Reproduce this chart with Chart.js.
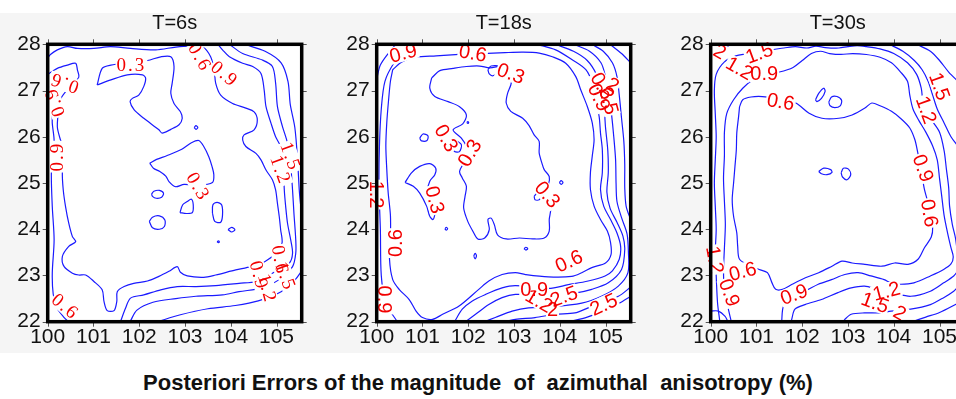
<!DOCTYPE html>
<html>
<head>
<meta charset="utf-8">
<script src="https://cdn.jsdelivr.net/npm/chart.js@4.4.1/dist/chart.umd.min.js"></script>
<style>
  html, body { margin: 0; padding: 0; background: #fff; width: 956px; height: 399px; overflow: hidden; position: relative; }
  #band { position: absolute; left: 0; top: 13px; width: 956px; height: 340px; background: #f5f5f5; }
  .panel { position: absolute; top: 0; }
  #caption { position: absolute; left: 0; top: 370px; width: 956px; text-align: center; white-space: pre;
    font-family: "Liberation Sans", Arial, sans-serif; font-weight: bold; font-size: 22px; line-height: 26px; color: #111; }
</style>
</head>
<body>
<div id="band"></div>
<canvas id="c0" class="panel" width="312" height="360"></canvas>
<canvas id="c1" class="panel" width="312" height="360"></canvas>
<canvas id="c2" class="panel" width="312" height="360"></canvas>
<div id="caption">Posteriori Errors of the magnitude  of  azimuthal  anisotropy (%)</div>
<script>
const xTicks = [100, 101, 102, 103, 104, 105];
const yTicks = [22, 23, 24, 25, 26, 27, 28];
const periods = ['T=6s', 'T=18s', 'T=30s'];

// ---- T=6s contours (lon, lat) ----
const p1Ring06 = [[100.0,27.34],[100.03,27.37],[100.21,27.48],[100.43,27.55],[100.61,27.59],[100.65,27.44],[100.68,27.29],[100.5,27.1],[100.3,26.85],[100.25,26.65],[100.21,26.22],[100.28,25.93],[100.36,25.72],[100.32,25.21],[100.34,24.85],[100.39,24.49],[100.46,24.13],[100.54,23.84],[100.61,23.73],[100.46,23.63],[100.32,23.41],[100.36,23.19],[100.54,23.05],[100.68,23.01],[100.83,23.01],[101.01,22.87],[101.19,22.69],[101.23,22.44],[101.30,22.24],[101.45,22.24],[101.51,22.44],[101.52,22.65],[101.67,22.76],[101.88,22.83],[102.18,22.88],[102.43,22.98],[102.65,23.09],[102.83,23.19],[102.90,23.07],[103.05,22.99],[103.41,22.96],[103.67,23.01],[104.11,23.12],[104.44,23.19],[104.75,23.3],[104.98,23.48],[105.12,23.70],[105.09,23.99],[105.06,24.27],[105.02,24.56],[104.98,24.85],[104.91,25.07],[104.77,25.28],[104.66,25.50],[104.55,25.64],[104.33,25.79],[104.26,25.93],[104.29,26.04],[104.51,26.15],[104.58,26.36],[104.51,26.54],[104.33,26.62],[104.04,26.72],[103.78,26.90],[103.67,27.16],[103.64,27.44],[103.56,27.73],[103.4,27.93],[103.1,27.96],[102.8,27.94],[102.36,27.88],[101.81,27.91],[101.37,27.95],[101.01,27.91],[100.65,27.91],[100.43,27.95],[100.21,27.88],[100.06,27.78],[100.0,27.7]];
const p1Line09 = [[103.72,28.0],[103.82,27.88],[103.97,27.73],[104.26,27.59],[104.48,27.52],[104.66,27.37],[104.73,27.01],[104.77,26.65],[104.88,26.29],[104.98,26.00],[105.09,25.79],[105.14,25.57],[105.17,24.85],[105.20,24.49],[105.24,24.13],[105.31,23.77],[105.35,23.48],[105.28,23.27],[104.91,23.05],[104.55,22.87],[104.18,22.83],[103.67,22.78],[103.24,22.76],[102.83,22.76],[102.47,22.69],[102.10,22.58],[101.81,22.51],[101.70,22.29],[101.59,22.0]];
const p1Line12 = [[103.97,28.0],[104.26,27.80],[104.69,27.66],[104.91,27.52],[104.98,27.16],[105.02,26.65],[105.13,26.22],[105.24,25.86],[105.31,25.36],[105.35,24.85],[105.38,24.35],[105.42,23.77],[105.42,23.48],[105.35,23.19],[105.06,22.91],[104.69,22.73],[104.18,22.65],[103.82,22.58],[103.24,22.55],[102.8,22.5],[102.3,22.42],[101.95,22.25],[101.8,22.0]];
const p1Line15a = [[102.4,22.0],[102.9,22.15],[103.5,22.28],[104.1,22.35],[104.6,22.45],[105.1,22.65],[105.4,22.9],[105.55,23.1]];
const p1Line15b = [[104.3,28.0],[104.75,27.85],[105.1,27.6],[105.25,27.2],[105.3,26.7],[105.4,26.2],[105.46,25.5],[105.5,24.8],[105.55,24.3]];
const p1LineLeft = [[100.0,27.15],[100.06,26.9],[100.1,26.5],[100.10,26.29],[100.14,25.93],[100.12,25.57],[100.08,25.21],[100.10,24.49],[100.14,23.77],[100.10,23.05],[100.12,22.6],[100.2,22.3],[100.35,22.1],[100.45,22.0]];
const p1Blob03a = [[101.08,27.12],[101.19,27.48],[101.38,27.55],[101.8,27.6],[102.18,27.65],[102.47,27.73],[102.69,27.73],[102.76,27.52],[102.72,27.16],[102.69,26.94],[102.76,26.72],[102.90,26.54],[102.94,26.40],[102.87,26.26],[102.69,26.16],[102.50,26.08],[102.43,26.15],[102.10,26.40],[101.89,26.58],[101.80,26.76],[101.85,26.83],[101.99,26.90],[102.10,27.09],[102.14,27.27],[102.07,27.34],[101.74,27.34],[101.38,27.23],[101.08,27.12]];
const p1Blob03b = [[102.23,25.43],[102.38,25.51],[102.60,25.59],[102.93,25.73],[103.14,25.87],[103.30,25.92],[103.41,25.79],[103.52,25.57],[103.59,25.36],[103.63,25.18],[103.60,25.01],[103.3,24.95],[102.98,24.97],[102.79,24.92],[102.65,25.03],[102.58,25.15],[102.45,25.25],[102.31,25.32],[102.23,25.43]];
const p1Isle1 = [[103.20,26.20],[103.24,26.24],[103.28,26.20],[103.24,26.16],[103.20,26.20]];
const p1Isle2 = [[102.27,24.76],[102.32,24.82],[102.44,24.84],[102.53,24.78],[102.49,24.69],[102.37,24.67],[102.29,24.71],[102.27,24.76]];
const p1Isle3 = [[102.89,24.36],[102.95,24.53],[103.05,24.60],[103.14,24.65],[103.18,24.53],[103.16,24.36],[103.03,24.34],[102.89,24.36]];
const p1Isle4 = [[102.22,24.17],[102.29,24.26],[102.44,24.29],[102.56,24.20],[102.55,24.06],[102.44,24.00],[102.29,24.03],[102.22,24.17]];
const p1Isle5 = [[103.60,24.35],[103.61,24.53],[103.70,24.58],[103.80,24.53],[103.82,24.31],[103.78,24.15],[103.65,24.17],[103.60,24.35]];
const p1Isle6 = [[103.94,23.99],[104.02,24.04],[104.09,23.99],[104.02,23.94],[103.94,23.99]];
const p1Isle7 = [[103.70,23.73],[103.73,23.75],[103.75,23.73],[103.73,23.71],[103.70,23.73]];
const p1Labels = [['0.3',101.83,27.55,0],['0.6',103.33,27.72,60],['0.9',103.87,27.36,40],['0.6',100.36,27.16,200],['0.9',100.15,26.75,250],['0.9',100.21,25.57,-90],['0.3',103.29,24.92,60],['1.5',105.31,25.57,70],['1.2',105.09,25.28,70],['0.9',104.62,23.0,75],['0.6',105.08,23.33,80],['1.2',104.8,22.72,75],['1.5',105.2,22.98,70],['0.6',100.39,22.33,40]];

// ---- T=18s contours ----
const p2Ring06 = [[100.35,27.45],[100.55,27.62],[100.85,27.72],[101.3,27.75],[101.8,27.78],[102.3,27.8],[102.8,27.82],[103.2,27.83],[103.55,27.81],[103.84,27.73],[104.13,27.59],[104.35,27.30],[104.46,27.01],[104.6,26.66],[104.71,26.30],[104.75,25.94],[104.71,25.58],[104.67,25.22],[104.67,24.86],[104.75,24.50],[104.89,24.21],[105.04,23.96],[105.11,23.71],[105.12,23.45],[105.0,23.27],[104.7,23.17],[104.48,23.06],[104.26,22.98],[103.75,22.97],[103.25,23.02],[103.03,23.06],[102.74,23.02],[102.45,22.88],[102.23,22.70],[101.8,22.34],[101.44,22.16],[101.22,22.05],[101.0,22.09],[100.86,22.23],[100.71,22.48],[100.49,22.70],[100.35,22.91],[100.28,23.35],[100.3,23.8],[100.3,24.3],[100.25,24.8],[100.22,25.3],[100.2,25.8],[100.22,26.3],[100.26,26.8],[100.3,27.2],[100.35,27.45]];
const p2Line09 = [[103.5,28.0],[103.91,27.88],[104.28,27.66],[104.57,27.45],[104.71,27.16],[104.78,26.80],[104.86,26.44],[104.89,26.08],[104.93,25.72],[104.93,25.22],[104.89,24.86],[104.96,24.50],[105.11,24.21],[105.25,23.92],[105.33,23.63],[105.3,23.35],[105.15,23.1],[104.99,22.99],[104.62,22.88],[104.19,22.80],[103.75,22.72],[103.03,22.78],[102.74,22.73],[102.38,22.59],[102.09,22.45],[101.87,22.27],[101.7,22.0]];
const p2Line09Left = [[100.45,22.0],[100.2,22.4],[100.1,23.0],[100.08,24.0],[100.05,24.9],[100.06,25.8],[100.1,26.6],[100.18,27.2],[100.38,27.6],[100.6,27.85],[100.8,28.0]];
const p2Line12 = [[103.9,28.0],[104.3,27.85],[104.6,27.65],[104.8,27.35],[104.9,27.0],[104.97,26.6],[105.0,26.2],[105.05,25.7],[105.06,25.22],[105.03,24.8],[105.1,24.45],[105.25,24.15],[105.38,23.85],[105.42,23.56],[105.35,23.13],[105.06,22.84],[104.7,22.70],[104.33,22.62],[103.7,22.58],[103.03,22.59],[102.74,22.52],[102.45,22.37],[102.16,22.16],[101.94,22.0]];
const p2Line15 = [[104.3,28.0],[104.65,27.85],[104.9,27.6],[105.0,27.3],[105.08,26.9],[105.13,26.5],[105.18,26.0],[105.22,25.5],[105.23,25.0],[105.25,24.6],[105.35,24.25],[105.47,23.9],[105.5,23.5],[105.49,23.06],[105.28,22.77],[104.91,22.55],[104.48,22.40],[103.83,22.32],[103.32,22.30],[102.96,22.23],[102.59,22.09],[102.35,22.0]];
const p2Line20a = [[104.7,28.0],[104.95,27.85],[105.15,27.6],[105.25,27.3],[105.3,26.9],[105.35,26.4],[105.4,25.9],[105.42,25.4],[105.42,24.9],[105.45,24.5],[105.55,24.2]];
const p2Line20b = [[105.55,22.75],[105.28,22.55],[104.62,22.30],[104.33,22.19],[103.90,22.16],[103.46,22.09],[103.03,22.05],[102.8,22.0]];
const p2Line25 = [[104.2,22.0],[104.6,22.1],[105.0,22.25],[105.3,22.4],[105.55,22.55]];
const p2CornerA = [[100.0,27.25],[100.08,27.55],[100.25,27.8],[100.42,28.0]];
const p2CornerB = [[105.1,28.0],[105.35,27.8],[105.55,27.6]];
const p2Blob03 = [[101.20,27.27],[101.38,27.43],[101.67,27.48],[101.96,27.52],[102.25,27.53],[102.47,27.49],[102.72,27.53],[102.93,27.52],[102.96,27.30],[102.93,27.12],[102.86,26.94],[102.83,26.73],[102.93,26.55],[103.19,26.40],[103.33,26.24],[103.44,26.04],[103.55,25.90],[103.55,25.65],[103.61,25.43],[103.66,25.29],[103.77,25.14],[103.75,24.96],[103.66,24.86],[103.70,24.64],[103.80,24.46],[103.77,24.21],[103.77,23.96],[103.66,23.81],[103.41,23.79],[103.12,23.81],[102.83,23.79],[102.64,23.88],[102.57,24.10],[102.50,24.24],[102.43,24.21],[102.46,23.99],[102.36,23.81],[102.21,23.79],[102.10,23.96],[101.99,24.17],[101.90,24.46],[101.93,24.71],[101.96,24.93],[101.87,25.11],[101.81,25.25],[101.90,25.43],[101.99,25.61],[101.96,25.79],[101.85,25.97],[101.67,26.15],[101.88,26.28],[101.96,26.47],[101.81,26.65],[101.56,26.76],[101.27,26.87],[101.16,27.05],[101.20,27.27]];
const p2Lobe03 = [[100.62,25.01],[100.76,25.22],[100.94,25.36],[101.16,25.42],[101.29,25.32],[101.27,25.18],[101.16,25.04],[101.12,24.86],[101.20,24.64],[101.27,24.35],[101.23,24.21],[101.16,24.28],[101.09,24.50],[100.94,24.78],[100.80,24.93],[100.62,25.01]];
const p2Isle1 = [[100.94,25.97],[101.01,26.06],[101.12,26.02],[101.10,25.92],[100.98,25.91],[100.94,25.97]];
const p2Isle2 = [[101.67,25.79],[101.74,25.90],[101.85,25.83],[101.81,25.68],[101.70,25.68],[101.67,25.79]];
const p2Isle3 = [[102.43,27.45],[102.50,27.53],[102.68,27.52],[102.67,27.41],[102.54,27.32],[102.46,27.36],[102.43,27.45]];
const p2Isle4 = [[103.44,24.71],[103.51,24.78],[103.59,24.72],[103.55,24.64],[103.46,24.64],[103.44,24.71]];
const p2Isle5 = [[103.99,25.01],[104.03,25.05],[104.07,25.01],[104.03,24.97],[103.99,25.01]];
const p2Isle6 = [[101.49,24.01],[101.52,24.04],[101.55,24.01],[101.52,23.98],[101.49,24.01]];
const p2Isle7 = [[103.22,23.58],[103.26,23.61],[103.30,23.58],[103.26,23.55],[103.22,23.58]];
const p2Isle8 = [[102.12,23.42],[102.15,23.48],[102.18,23.42],[102.15,23.36],[102.12,23.42]];
const p2Isle9 = [[101.97,26.31],[101.99,26.33],[102.01,26.31],[101.99,26.29],[101.97,26.31]];
const p2Labels = [['0.9',100.58,27.81,-15],['0.6',102.10,27.81,10],['0.3',102.93,27.37,20],['0.9',104.86,26.85,65],['0.6',104.93,27.1,60],['2.5',105.07,26.78,75],['2',105.16,27.12,30],['0.3',101.52,25.97,60],['0.3',102.03,25.65,-60],['0.3',101.27,24.64,75],['0.3',103.73,24.75,50],['1.2',100.0,24.75,90],['0.6',100.40,23.70,-90],['0.9',100.18,22.48,90],['0.6',104.20,23.31,-25],['0.9',103.44,22.70,0],['1.2',103.55,22.45,30],['2.5',104.09,22.55,-20],['2',103.84,22.27,0],['2.5',104.96,22.37,-25]];

// ---- T=30s contours ----
const p3Ring06 = [[100.63,26.65],[100.70,26.80],[100.88,26.86],[101.13,26.87],[101.5,26.82],[101.86,26.73],[102.15,26.51],[102.43,26.40],[102.80,26.40],[103.09,26.47],[103.37,26.62],[103.52,26.73],[103.70,26.67],[103.95,26.55],[104.17,26.38],[104.35,26.19],[104.46,25.94],[104.52,25.68],[104.57,25.43],[104.62,25.14],[104.67,24.86],[104.73,24.64],[104.8,24.3],[104.85,24.05],[104.82,23.83],[104.67,23.60],[104.53,23.35],[104.31,23.24],[104.02,23.27],[103.74,23.20],[103.37,23.24],[103.09,23.27],[102.87,23.31],[102.65,23.20],[102.36,23.06],[102.07,22.95],[101.78,22.81],[101.57,22.70],[101.42,22.70],[101.34,22.84],[101.24,23.06],[101.06,23.13],[100.88,23.20],[100.63,23.35],[100.59,23.63],[100.57,23.92],[100.50,24.28],[100.47,24.64],[100.50,25.0],[100.53,25.36],[100.56,25.72],[100.57,26.08],[100.61,26.44],[100.63,26.65]];
const p3Line09 = [[100.45,22.0],[100.38,22.3],[100.3,22.7],[100.28,23.1],[100.3,23.6],[100.32,24.1],[100.3,24.6],[100.28,25.1],[100.3,25.6],[100.3,26.1],[100.35,26.5],[100.5,26.8],[100.7,27.05],[100.95,27.25],[101.2,27.35],[101.5,27.4],[101.8,27.5],[102.0,27.65],[102.2,27.8],[102.4,27.85],[102.6,27.8],[102.85,27.78],[103.1,27.8],[103.4,27.78],[103.7,27.72],[103.95,27.6],[104.15,27.4],[104.3,27.2],[104.35,26.9],[104.42,26.6],[104.55,26.35],[104.7,26.1],[104.85,25.8],[104.95,25.5],[105.0,25.1],[105.05,24.7],[105.1,24.3],[105.18,23.9],[105.25,23.6],[105.3,23.4],[105.25,23.25],[105.09,23.13],[104.80,22.99],[104.44,22.84],[104.15,22.81],[103.94,22.84],[103.79,22.91],[103.50,22.99],[103.22,23.06],[102.93,23.02],[102.64,22.91],[102.35,22.81],[102.06,22.66],[101.77,22.55],[101.59,22.34],[101.55,22.0]];
const p3Line12 = [[100.2,22.0],[100.15,22.4],[100.12,23.0],[100.1,23.5],[100.12,24.0],[100.1,24.5],[100.08,25.0],[100.1,25.5],[100.12,26.0],[100.1,26.5],[100.08,27.0],[100.12,27.35],[100.3,27.62],[100.55,27.75],[100.8,27.8],[101.0,27.85],[101.3,27.88],[101.6,27.92],[101.85,27.95],[102.1,27.92],[102.3,27.96],[102.5,27.93],[102.8,27.92],[103.0,27.95],[103.2,27.97],[103.4,27.95],[103.7,27.9],[104.0,27.8],[104.3,27.6],[104.5,27.35],[104.6,27.05],[104.65,26.7],[104.8,26.4],[105.0,26.1],[105.1,25.7],[105.15,25.3],[105.2,24.9],[105.22,24.5],[105.28,24.1],[105.35,23.8],[105.4,23.4]];
const p3Line12b = [[105.4,23.1],[105.31,22.99],[105.09,22.84],[104.80,22.66],[104.37,22.55],[104.0,22.62],[103.65,22.70],[103.36,22.77],[103.07,22.73],[102.78,22.63],[102.42,22.48],[102.06,22.37],[101.84,22.27],[101.77,22.05],[101.76,22.0]];
const p3Line15a = [[103.9,28.0],[104.2,27.85],[104.45,27.65],[104.62,27.45],[104.75,27.2],[104.85,26.9],[104.95,26.6],[105.1,26.3],[105.25,26.0],[105.4,25.8]];
const p3Line15b = [[105.4,22.75],[105.31,22.66],[105.09,22.52],[104.80,22.37],[104.37,22.27],[103.94,22.23],[103.72,22.19],[103.36,22.19],[103.07,22.16],[102.93,22.05],[102.9,22.0]];
const p3Line15c = [[100.0,27.75],[100.15,27.85],[100.35,27.95],[100.45,28.0]];
const p3Line20a = [[104.5,28.0],[104.8,27.85],[105.0,27.65],[105.2,27.4],[105.4,27.2]];
const p3Line20b = [[105.4,22.4],[105.0,22.2],[104.7,22.1],[104.4,22.0]];
const p3Corner = [[100.0,22.23],[100.17,22.23],[100.31,22.12],[100.38,22.0]];
const p3Isle1 = [[102.29,26.80],[102.36,26.94],[102.47,27.05],[102.50,26.98],[102.42,26.83],[102.32,26.76],[102.29,26.80]];
const p3Isle2 = [[102.58,26.75],[102.64,26.86],[102.76,26.87],[102.86,26.79],[102.83,26.67],[102.71,26.63],[102.61,26.67],[102.58,26.75]];
const p3Isle3 = [[102.36,25.25],[102.47,25.32],[102.62,25.29],[102.65,25.23],[102.54,25.18],[102.42,25.20],[102.36,25.25]];
const p3Isle4 = [[102.85,25.22],[102.90,25.32],[103.01,25.30],[103.06,25.18],[102.98,25.07],[102.88,25.13],[102.85,25.22]];
const p3Labels = [['2',100.2,27.84,30],['1.5',101.06,27.81,-20],['1.2',100.63,27.48,30],['0.9',101.17,27.36,0],['0.6',101.53,26.76,10],['1.5',105.0,27.09,70],['1.2',104.71,26.58,70],['0.9',104.64,25.32,70],['0.6',104.78,24.35,80],['1.2',100.09,23.34,80],['0.6',100.70,23.09,-15],['0.9',100.41,22.63,70],['0.9',101.82,22.59,-20],['1.2',103.84,22.66,-15],['1.5',103.59,22.41,20],['2',104.13,22.19,30]];

const panels = [
  { title: periods[0], labels: p1Labels, font: '19px "Liberation Serif", serif', spacing: '2px',
    lines: [p1Ring06, p1Line09, p1Line12, p1Line15a, p1Line15b, p1LineLeft, p1Blob03a, p1Blob03b, p1Isle1, p1Isle2, p1Isle3, p1Isle4, p1Isle5, p1Isle6, p1Isle7] },
  { title: periods[1], labels: p2Labels, font: '20px "Liberation Sans", Arial, sans-serif', spacing: '0px',
    lines: [p2Ring06, p2Line09, p2Line09Left, p2Line12, p2Line15, p2Line20a, p2Line20b, p2Line25, p2CornerA, p2CornerB, p2Blob03, p2Lobe03, p2Isle1, p2Isle2, p2Isle3, p2Isle4, p2Isle5, p2Isle6, p2Isle7, p2Isle8, p2Isle9] },
  { title: periods[2], labels: p3Labels, font: '20px "Liberation Sans", Arial, sans-serif', spacing: '0px',
    lines: [p3Ring06, p3Line09, p3Line12, p3Line12b, p3Line15a, p3Line15b, p3Line15c, p3Line20a, p3Line20b, p3Corner, p3Isle1, p3Isle2, p3Isle3, p3Isle4] }
];
const canvasLeft = [0, 329, 663.3];

const plotBg = {
  id: 'plotBg',
  beforeDraw(chart) {
    const { ctx, chartArea: a } = chart;
    ctx.save();
    ctx.fillStyle = '#fff';
    ctx.fillRect(a.left, a.top, a.width, a.height);
    ctx.restore();
  }
};

const contourLabels = {
  id: 'contourLabels',
  afterDatasetsDraw(chart, args, opts) {
    const { ctx, chartArea: a } = chart;
    const sx = chart.scales.x, sy = chart.scales.y;
    const size = parseFloat(opts.font);
    ctx.save();
    ctx.font = opts.font;
    ctx.letterSpacing = opts.spacing;
    ctx.textAlign = 'center';
    ctx.textBaseline = 'middle';
    // white gaps in the lines under the labels
    ctx.save();
    ctx.beginPath();
    ctx.rect(a.left, a.top, a.width, a.height);
    ctx.clip();
    opts.items.forEach(([text, lon, lat, angle]) => {
      const w = ctx.measureText(text).width;
      ctx.save();
      ctx.translate(sx.getPixelForValue(lon), sy.getPixelForValue(lat));
      ctx.rotate(angle * Math.PI / 180);
      ctx.fillStyle = '#fff';
      ctx.fillRect(-w / 2 - 1, -size * 0.42, w + 2, size * 0.84);
      ctx.restore();
    });
    ctx.restore();
    opts.items.forEach(([text, lon, lat, angle]) => {
      ctx.save();
      ctx.translate(sx.getPixelForValue(lon), sy.getPixelForValue(lat));
      ctx.rotate(angle * Math.PI / 180);
      ctx.fillStyle = '#f20000';
      ctx.fillText(text, 0, 1);
      ctx.restore();
    });
    ctx.restore();
  }
};

const frame = {
  id: 'frame',
  afterDraw(chart) {
    const { ctx, chartArea: a } = chart;
    const sx = chart.scales.x, sy = chart.scales.y;
    ctx.save();
    ctx.strokeStyle = '#555';
    ctx.lineWidth = 1;
    ctx.beginPath();
    xTicks.forEach(v => {
      const px = Math.round(sx.getPixelForValue(v)) + 0.5;
      ctx.moveTo(px, a.top - 5); ctx.lineTo(px, a.top);
      ctx.moveTo(px, a.bottom); ctx.lineTo(px, a.bottom + 5);
    });
    yTicks.forEach(v => {
      const py = Math.round(sy.getPixelForValue(v)) + 0.5;
      ctx.moveTo(a.left - 5, py); ctx.lineTo(a.left, py);
      ctx.moveTo(a.right, py); ctx.lineTo(a.right + 5, py);
    });
    ctx.stroke();
    ctx.strokeStyle = '#000';
    ctx.lineWidth = 3.5;
    ctx.strokeRect(a.left, a.top, a.width, a.height);
    ctx.restore();
  }
};

panels.forEach((panel, i) => {
  const canvas = document.getElementById('c' + i);
  canvas.style.left = canvasLeft[i] + 'px';
  new Chart(canvas, {
    type: 'scatter',
    data: {
      datasets: panel.lines.map(pts => ({
        data: pts.map(([x, y]) => ({ x, y })),
        showLine: true,
        borderColor: '#1a1aff',
        borderWidth: 1.2,
        pointRadius: 0,
        tension: 0.3,
        fill: false
      }))
    },
    options: {
      responsive: false,
      animation: false,
      events: [],
      layout: { padding: { left: 0, right: 10.3, top: 0, bottom: 0 } },
      plugins: {
        legend: { display: false },
        tooltip: { enabled: false },
        title: {
          display: true, text: panel.title, fullSize: false, color: '#111',
          font: { family: '"Liberation Sans", Arial, sans-serif', size: 20, weight: 'normal', lineHeight: 1.2 },
          padding: { top: 11, bottom: 9.3 }
        },
        contourLabels: { items: panel.labels, font: panel.font, spacing: panel.spacing }
      },
      scales: {
        x: {
          type: 'linear', min: 100, max: 105.55,
          afterBuildTicks: axis => { axis.ticks = xTicks.map(v => ({ value: v })); },
          afterFit: axis => { axis.height = 38.3; },
          grid: { display: false, drawTicks: false },
          border: { display: false },
          ticks: { color: '#111', padding: 3, maxRotation: 0, autoSkip: false,
                   font: { family: '"Liberation Sans", Arial, sans-serif', size: 21 } }
        },
        y: {
          type: 'linear', min: 22, max: 28,
          afterBuildTicks: axis => { axis.ticks = yTicks.map(v => ({ value: v })); },
          afterFit: axis => { axis.width = 47.7; },
          grid: { display: false, drawTicks: false },
          border: { display: false },
          ticks: { color: '#111', padding: 7, autoSkip: false,
                   font: { family: '"Liberation Sans", Arial, sans-serif', size: 21 } }
        }
      }
    },
    plugins: [plotBg, contourLabels, frame]
  });
});
</script>
</body>
</html>
